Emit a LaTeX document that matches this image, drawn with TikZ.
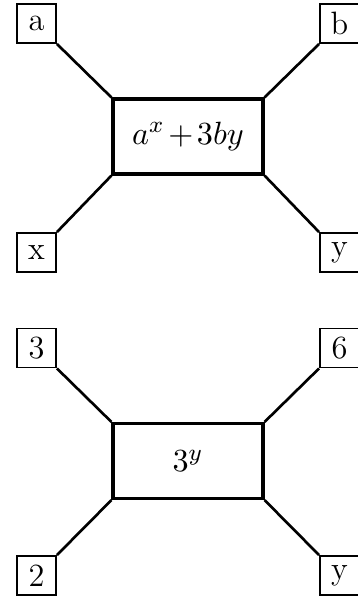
\documentclass[tikz,border=0pt]{standalone}
\begin{document}
\begin{tikzpicture}[x=0.34pt, y=-0.34pt,
  every node/.style={font=\fontsize{11}{13}\selectfont},
  leaf/.style={draw, line width=0.6pt, minimum width=13.3pt, minimum height=13.3pt, inner sep=0pt},
  core/.style={draw, line width=1.1pt, minimum width=51pt, minimum height=25.5pt, inner sep=0pt},
  link/.style={line width=0.9pt}]
\useasboundingbox (0,0) rectangle (357,598);
% first box
\node[core] (m1) at (188,136.5) {$a^x\mskip2mu{+}\mskip2mu3by$};
\node[leaf] (tl1) at (36.5,23.5) {a};
\node[leaf] (tr1) at (339.5,23.5) {b};
\node[leaf] (bl1) at (36.5,252.5) {x};
\node[leaf] (br1) at (339.5,252.5) {y};
\draw[link] (tl1.south east) -- (m1.north west);
\draw[link] (tr1.south west) -- (m1.north east);
\draw[link] (bl1.north east) -- (m1.south west);
\draw[link] (br1.north west) -- (m1.south east);
% second box
\node[core] (m2) at (188,461) {$3^y$};
\node[leaf] (tl2) at (36.5,348) {3};
\node[leaf] (tr2) at (339.5,348) {6};
\node[leaf] (bl2) at (36.5,575.5) {2};
\node[leaf] (br2) at (339.5,575.5) {y};
\draw[link] (tl2.south east) -- (m2.north west);
\draw[link] (tr2.south west) -- (m2.north east);
\draw[link] (bl2.north east) -- (m2.south west);
\draw[link] (br2.north west) -- (m2.south east);
\end{tikzpicture}
\end{document}
